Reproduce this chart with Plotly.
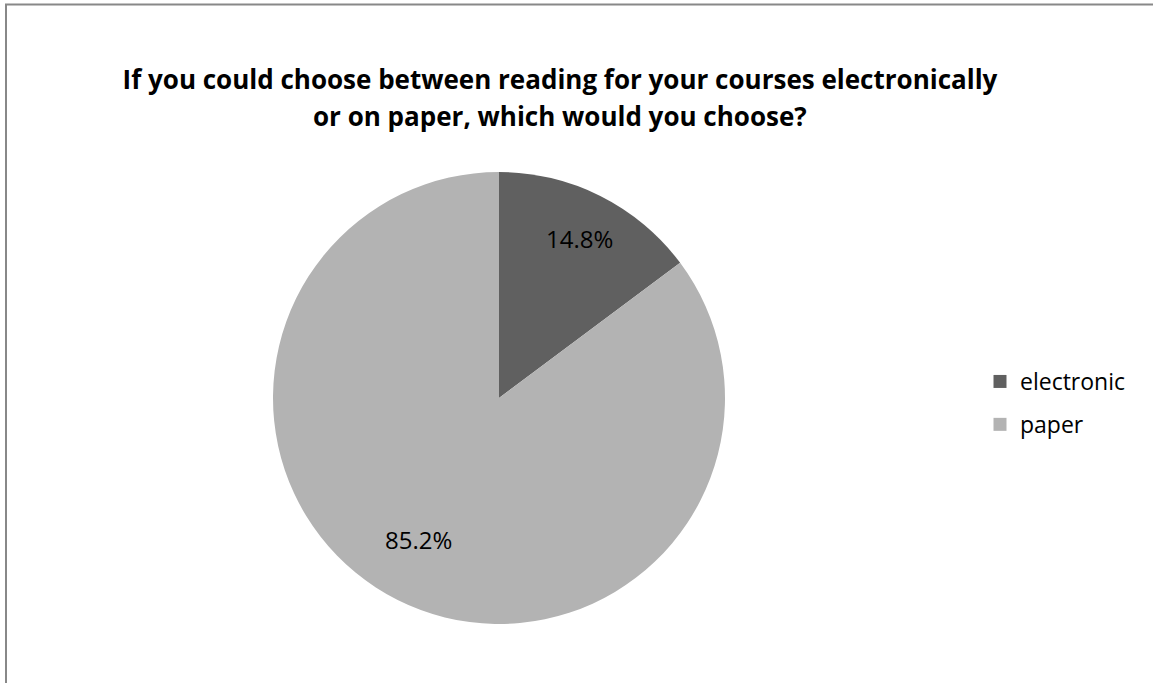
import math
import plotly.graph_objects as go

labels = ["electronic", "paper"]
values = [14.8, 85.2]
colors = ["#606060", "#b3b3b3"]
title_lines = ["If you could choose between reading for your courses electronically",
               "or on paper, which would you choose?"]

W, H = 1153, 683
FONT = "'Open Sans', 'Noto Sans', sans-serif"
CX, CY, R = 499, 398, 226  # pie geometry in pixels

fig = go.Figure()
fig.add_trace(go.Pie(
    labels=labels, values=values, sort=False, direction="clockwise", rotation=0,
    marker=dict(colors=colors, line=dict(width=0)),
    textinfo="none", hoverinfo="label+percent",
    showlegend=False,
    domain=dict(x=[(CX - R) / W, (CX + R) / W], y=[1 - (CY + R) / H, 1 - (CY - R) / H]),
))
for lab, col in zip(labels, colors):
    fig.add_trace(go.Scatter(
        x=[None], y=[None], mode="markers", name=lab, legendgroup=lab,
        marker=dict(symbol="square", size=13, color=col),
    ))

# data labels placed at the middle angle of each slice
total = sum(values)
cum = 0.0
for v in values:
    mid = (cum + v / 2) / total * 2 * math.pi
    cum += v
    px = CX + 0.79 * R * math.sin(mid)
    py = CY - 0.79 * R * math.cos(mid)
    fig.add_annotation(x=px / W, y=1 - py / H, xref="paper", yref="paper",
                       text=f"{v / total * 100:.1f}%", showarrow=False,
                       font=dict(family=FONT, size=24, color="#000000"))

# second title line
fig.add_annotation(x=560 / W, y=1 - 116 / H, xref="paper", yref="paper",
                   text=title_lines[1], showarrow=False, xanchor="center", yanchor="middle",
                   font=dict(family=FONT, size=26, color="#000000", weight="bold"))

fig.add_shape(type="line", xref="paper", yref="paper",
              x0=5 / W, x1=1.0, y0=1 - 4.5 / H, y1=1 - 4.5 / H,
              line=dict(color="#888888", width=2))
fig.add_shape(type="line", xref="paper", yref="paper",
              x0=6 / W, x1=6 / W, y0=0, y1=1 - 4 / H,
              line=dict(color="#888888", width=2))

fig.update_layout(
    width=W, height=H,
    margin=dict(l=0, r=0, t=0, b=0),
    paper_bgcolor="white", plot_bgcolor="white",
    title=dict(text=title_lines[0], x=560 / W, xanchor="center",
               y=1 - 80 / H, yanchor="middle",
               font=dict(family=FONT, size=26, color="#000000", weight="bold")),
    xaxis=dict(visible=False), yaxis=dict(visible=False),
    legend=dict(x=980 / W, y=1 - 360 / H, xanchor="left", yanchor="top",
                font=dict(family=FONT, size=23, color="#000000"),
                tracegroupgap=10, itemwidth=30, bgcolor="rgba(0,0,0,0)"),
)
fig.write_html("out.html")
